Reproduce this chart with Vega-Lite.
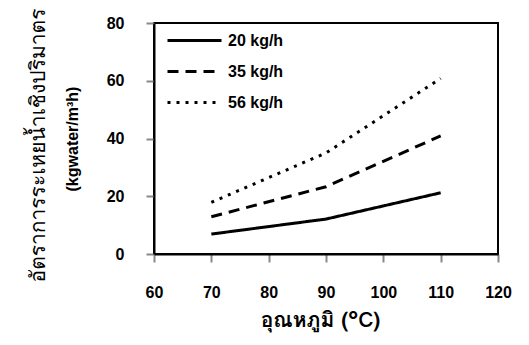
{
  "$schema": "https://vega.github.io/schema/vega-lite/v6.json",
  "width": 344,
  "height": 231,
  "autosize": {"type": "none"},
  "padding": {"left": 154, "top": 23, "right": 31, "bottom": 91},
  "background": "white",
  "config": {
    "view": {"stroke": "black", "strokeWidth": 2},
    "font": "Liberation Sans"
  },
  "data": {
    "values": [
      {"series": "20 kg/h", "temp": 70, "rate": 6.9},
      {"series": "20 kg/h", "temp": 90, "rate": 12.1},
      {"series": "20 kg/h", "temp": 110, "rate": 21.2},
      {"series": "35 kg/h", "temp": 70, "rate": 12.9},
      {"series": "35 kg/h", "temp": 90, "rate": 23.3},
      {"series": "35 kg/h", "temp": 110, "rate": 40.9},
      {"series": "56 kg/h", "temp": 70, "rate": 17.9},
      {"series": "56 kg/h", "temp": 90, "rate": 35.0},
      {"series": "56 kg/h", "temp": 110, "rate": 60.8}
    ]
  },
  "layer": [
    {
      "mark": {"type": "line", "color": "black", "strokeWidth": 3},
      "encoding": {
        "x": {
          "field": "temp", "type": "quantitative",
          "scale": {"domain": [60, 120], "nice": false, "zero": false},
          "axis": {
            "values": [60, 70, 80, 90, 100, 110, 120],
            "title": "อุณหภูมิ (°C)",
            "grid": false,
            "domainColor": "black", "domainWidth": 2,
            "tickColor": "#888888", "tickSize": 8, "tickWidth": 2,
            "labelFont": "Liberation Sans", "labelFontSize": 16, "labelFontWeight": "bold", "labelColor": "black",
            "labelPadding": 22, "labelFlush": false,
            "titleFont": "Tahoma, Loma, Noto Sans Thai, Liberation Sans", "titleFontSize": 21, "titleFontWeight": "bold", "titleColor": "black",
            "titlePadding": 9, "titleX": 166
          }
        },
        "y": {
          "field": "rate", "type": "quantitative",
          "scale": {"domain": [0, 80], "nice": false},
          "axis": {
            "values": [0, 20, 40, 60, 80],
            "title": "อัตราการระเหยน้ำเชิงปริมาตร",
            "grid": false,
            "domainColor": "black", "domainWidth": 2,
            "tickColor": "#888888", "tickSize": 8, "tickWidth": 2,
            "labelFont": "Liberation Sans", "labelFontSize": 16, "labelFontWeight": "bold", "labelColor": "black",
            "labelPadding": 22, "labelFlush": false,
            "titleFont": "Tahoma, Loma, Noto Sans Thai, Liberation Sans", "titleFontSize": 21, "titleFontWeight": "normal", "titleColor": "black",
            "titlePadding": 58, "titleY": 122
          }
        },
        "strokeDash": {
          "field": "series", "type": "nominal",
          "scale": {"domain": ["20 kg/h", "35 kg/h", "56 kg/h"], "range": [[1, 0], [11, 7], [3, 6]]},
          "legend": {
            "title": null,
            "orient": "none", "legendX": 29, "legendY": 6,
            "symbolType": "M-2.7,0H2.7", "symbolSize": 400, "symbolStrokeWidth": 3, "symbolStrokeColor": "black",
            "labelFont": "Liberation Sans", "labelFontSize": 16, "labelFontWeight": "bold", "labelColor": "black",
            "labelOffset": 22, "rowPadding": 11
          }
        }
      }
    },
    {
      "mark": {"type": "line", "opacity": 0},
      "encoding": {
        "x": {"field": "temp", "type": "quantitative"},
        "y": {
          "field": "rate", "type": "quantitative",
          "scale": {"domain": [0, 80], "nice": false},
          "axis": {
            "orient": "left",
            "title": "(kgwater/m³h)",
            "labels": false, "ticks": false, "domain": false, "grid": false,
            "titleFont": "Liberation Sans", "titleFontSize": 16, "titleFontWeight": "bold", "titleColor": "black",
            "titlePadding": 74
          }
        },
        "detail": {"field": "series"}
      }
    }
  ],
  "resolve": {"scale": {"y": "independent"}}
}
